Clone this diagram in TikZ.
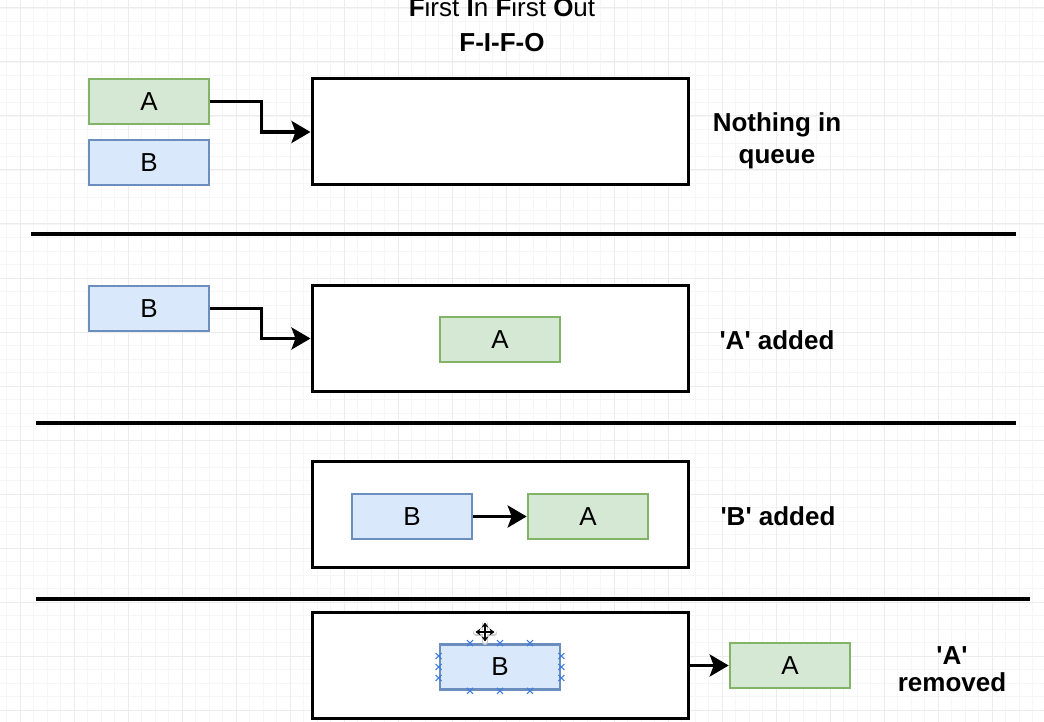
\documentclass[tikz,border=0pt]{standalone}
\usepackage{fontspec}
\setmainfont{Liberation Sans}
\usetikzlibrary{arrows.meta,calc}
\definecolor{agreen}{HTML}{D5E8D4}
\definecolor{agreenline}{HTML}{82B366}
\definecolor{bblue}{HTML}{DAE8FC}
\definecolor{bblueline}{HTML}{6C8EBF}
\definecolor{selblue}{HTML}{3D7BE0}
\definecolor{gridmaj}{HTML}{ECECEC}
\definecolor{gridmin}{HTML}{F6F6F6}
\tikzset{
  qbox/.style={draw=black, line width=3pt, fill=white, minimum width=376pt, minimum height=106pt, inner sep=0pt},
  abox/.style={draw=agreenline, fill=agreen, line width=2.6pt, minimum width=120pt, minimum height=45pt, inner sep=0pt, font=\fontsize{26}{30}\selectfont},
  bbox/.style={abox, draw=bblueline, fill=bblue},
  conn/.style={line width=3.5pt, -{Stealth[length=19pt,width=22pt,inset=4pt]}},
  divider/.style={line width=3.8pt},
  lbl/.style={font=\fontsize{26}{31}\selectfont\bfseries, anchor=base, inner sep=0pt},
  ttl/.style={font=\fontsize{26}{31}\selectfont, anchor=base, inner sep=0pt},
  selmark/.style={draw=selblue, line width=1.1pt},
}
\begin{document}
\begin{tikzpicture}[x=1pt,y=-1pt]
\useasboundingbox (0,0) rectangle (1044,722);
% grid
\foreach \i in {0,...,78} {
  \draw[gridmin, line width=0.8pt] ({20+13.5*(\i-1)},0) -- ({20+13.5*(\i-1)},722);
}
\foreach \i in {0,...,54} {
  \draw[gridmin, line width=0.8pt] (0,{8+13.5*\i}) -- (1044,{8+13.5*\i});
}
\foreach \i in {0,...,19} {
  \draw[gridmaj, line width=1pt] ({20+54*\i},0) -- ({20+54*\i},722);
}
\foreach \i in {0,...,13} {
  \draw[gridmaj, line width=1pt] (0,{8+54*\i}) -- (1044,{8+54*\i});
}

% title
\node[ttl] (t1) at (502,17) {\textbf{F}irst \textbf{I}n \textbf{F}irst \textbf{O}ut};
\node[lbl] (t2) at (502,52) {F-I-F-O};

% row 1
\node[qbox] (q1) at (500,132) {};
\node[abox] (a1) at (149,101.5) {A};
\node[bbox] (b1) at (149,162.5) {B};
\draw[conn] (a1.east) -- ++(51,0) |- (q1.west);
\node[lbl] (l1a) at (777,132) {Nothing in};
\node[lbl] (l1b) at (777,164) {queue};

\draw[divider] (31,234) -- (1016,234);

% row 2
\node[qbox] (q2) at (500,338.5) {};
\node[abox] (a2) at (500,339.5) {A};
\node[bbox] (b2) at (149,308.5) {B};
\draw[conn] (b2.east) -- ++(51,0) |- (q2.west);
\node[lbl] (l2) at (777,349) {\textquotesingle A\textquotesingle{} added};

\draw[divider] (36,423) -- (1016,423);

% row 3
\node[qbox] (q3) at (500,514) {};
\node[bbox] (b3) at (412,516.5) {B};
\node[abox] (a3) at (588,516.5) {A};
\draw[conn] (b3.east) -- (a3.west);
\node[lbl] (l3) at (778,525) {\textquotesingle B\textquotesingle{} added};

\draw[divider] (36,599) -- (1030,599);

% row 4
\node[qbox] (q4) at (500,665.5) {};
\node[bbox] (b4) at (500,667) {B};
\node[abox] (a4) at (790,665.5) {A};
\draw[conn] (q4.east) -- (a4.west);
\node[lbl] (l4a) at (952,664) {\textquotesingle A\textquotesingle};
\node[lbl] (l4b) at (952,691) {removed};

% selection markers on B
\foreach \dx in {-30,0,30} {
  \draw[selmark] ($(b4.north)+(\dx-3,-3)$) -- ++(6,6) ($(b4.north)+(\dx+3,-3)$) -- ++(-6,6);
  \draw[selmark] ($(b4.south)+(\dx-3,-3)$) -- ++(6,6) ($(b4.south)+(\dx+3,-3)$) -- ++(-6,6);
}
\foreach \dy in {-11,0,11} {
  \draw[selmark] ($(b4.west)+(-3,\dy-3)$) -- ++(6,6) ($(b4.west)+(3,\dy-3)$) -- ++(-6,6);
  \draw[selmark] ($(b4.east)+(-3,\dy-3)$) -- ++(6,6) ($(b4.east)+(3,\dy-3)$) -- ++(-6,6);
}

% move cursor
\begin{scope}[shift={(485,632)}]
  \draw[gray!40, line width=6pt, line cap=round] (-9,1) -- (9,1) (0,-8) -- (0,10);
  \draw[white, line width=4.5pt, line cap=round] (-9,0) -- (9,0) (0,-9) -- (0,9);
  \draw[line width=1.8pt, {Stealth[length=5pt,width=7pt]}-{Stealth[length=5pt,width=7pt]}] (-9.5,0) -- (9.5,0);
  \draw[line width=1.8pt, {Stealth[length=5pt,width=7pt]}-{Stealth[length=5pt,width=7pt]}] (0,-9.5) -- (0,9.5);
\end{scope}
\end{tikzpicture}
\end{document}
